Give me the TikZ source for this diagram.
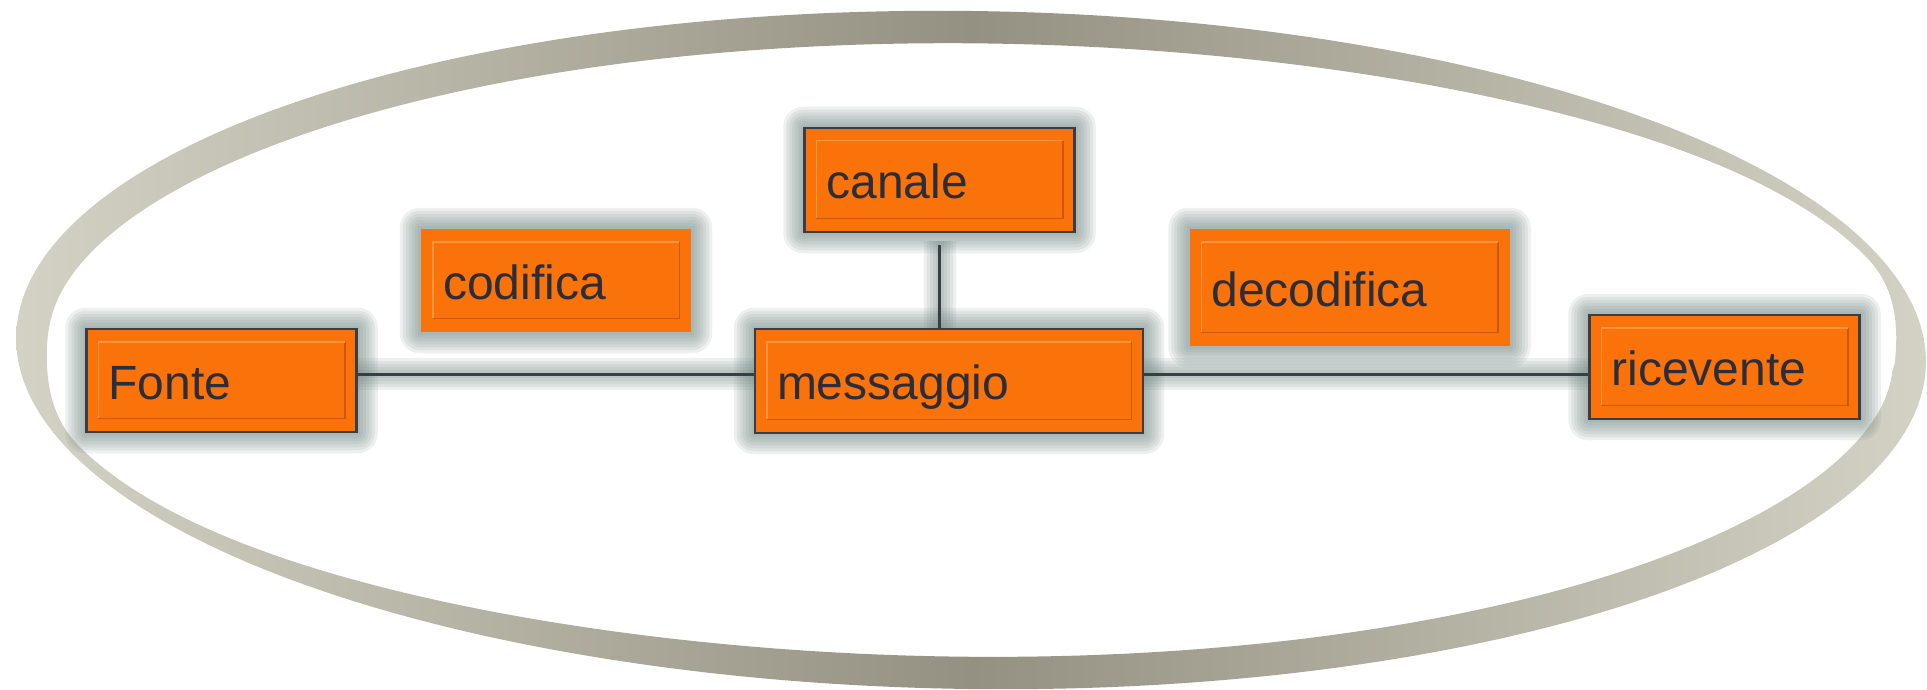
\documentclass[tikz,border=0pt]{standalone}
\usepackage{fontspec}
\setmainfont{Liberation Sans}
\usetikzlibrary{calc,backgrounds}
\definecolor{boxorange}{RGB}{250,114,10}
\definecolor{boxedge}{RGB}{58,60,70}
\definecolor{txt}{RGB}{43,46,58}
\definecolor{glowc}{RGB}{112,134,128}
\definecolor{ringlight}{RGB}{212,210,196}
\definecolor{ringdark}{RGB}{148,145,130}
\definecolor{bevdark}{RGB}{205,88,0}
\definecolor{bevlight}{RGB}{255,150,62}
\newcommand\boxglow[1]{\foreach \g in {2,5,8,11,14,17,20}{\fill[glowc, opacity=0.12, rounded corners=\g pt] ($(#1.north west)+(-\g,-\g)$) rectangle ($(#1.south east)+(\g,\g)$);}}
\begin{document}
\begin{tikzpicture}[x=1pt,y=-1pt,
 declare function={
   gs(\d)=exp(-(\d)*(\d));
   wa(\t)=ifthenelse(\t<19,12,38);
   wb(\t)=ifthenelse(\t<200,12,38);
   th(\t)=33-23*gs((\t-19)/wa(\t))-23*gs((\t-200)/wb(\t));
   nn(\t)=sqrt((3.39*cos(\t))*(3.39*cos(\t))+(9.55*sin(\t))*(9.55*sin(\t)));
   nx(\t)=3.39*cos(\t)/nn(\t);
   ny(\t)=9.55*sin(\t)/nn(\t);
 },
 box/.style={fill=boxorange, draw=boxedge, line width=2.5pt, inner xsep=22pt, inner ysep=0pt,
   text=txt, font=\fontsize{48}{56}\selectfont, align=left, text height=37pt, text depth=0pt},
 plainbox/.style={box, draw=none},
 conn/.style={draw=boxedge, line width=3pt},
 connglow/.style={draw=glowc, opacity=0.12}]
\useasboundingbox (0,0) rectangle (1927,690);
\coordinate (lvl) at (0,374);
% boxes
\node[box, text width=226pt, minimum height=103pt] (fonte) at (221.5,380.5) {Fonte};
\node[plainbox, text width=226pt, minimum height=103pt] (codifica) at (556,280.5) {codifica};
\node[box, text width=226pt, minimum height=104pt] (canale) at (939.5,180) {canale};
\node[box, text width=344pt, minimum height=104pt] (messaggio) at (949,381) {messaggio};
\node[plainbox, text width=276pt, minimum height=117pt] (decodifica) at (1349.5,287.5) {decodifica};
\node[box, text width=226pt, minimum height=104pt] (ricevente) at (1724.5,367) {ricevente};
% bevels
\foreach \n in {fonte,codifica,canale,messaggio,decodifica,ricevente}{
  \draw[bevdark, line width=1.5pt] ($(\n.north east)+(-13,14)$) -- ($(\n.south east)+(-13,-15)$) -- ($(\n.south west)+(13,-15)$);
  \draw[bevlight, line width=1.5pt] ($(\n.south west)+(13,-15)$) -- ($(\n.north west)+(13,14)$) -- ($(\n.north east)+(-13,14)$);
}
% connectors
\draw[conn] (fonte.east |- lvl) -- (messaggio.west |- lvl);
\draw[conn] (messaggio.east |- lvl) -- (ricevente.west |- lvl);
\draw[conn, shorten <=12pt] (canale.south) -- (canale.south |- messaggio.north);
\begin{scope}[on background layer]
  \shade[even odd rule, left color=ringlight, right color=ringlight, middle color=ringdark,
         rotate around={-0.8:(971,350)}]
    plot[smooth cycle, domain=0:358, samples=180, variable=\t]
      ({971+955*cos(\t)}, {350-339*sin(\t)})
    plot[smooth cycle, domain=0:358, samples=180, variable=\t]
      ({971+955*cos(\t)-th(\t)*nx(\t)}, {350-339*sin(\t)+th(\t)*ny(\t)});
  \foreach \w in {8,14,20,26,32}{
    \draw[connglow, line width=\w pt] (fonte.east |- lvl) -- (messaggio.west |- lvl);
    \draw[connglow, line width=\w pt] (messaggio.east |- lvl) -- (ricevente.west |- lvl);
    \draw[connglow, line width=\w pt, shorten <=8pt] (canale.south) -- (canale.south |- messaggio.north);
  }
  \boxglow{fonte}\boxglow{codifica}\boxglow{canale}\boxglow{messaggio}\boxglow{decodifica}\boxglow{ricevente}
\end{scope}
\end{tikzpicture}
\end{document}
